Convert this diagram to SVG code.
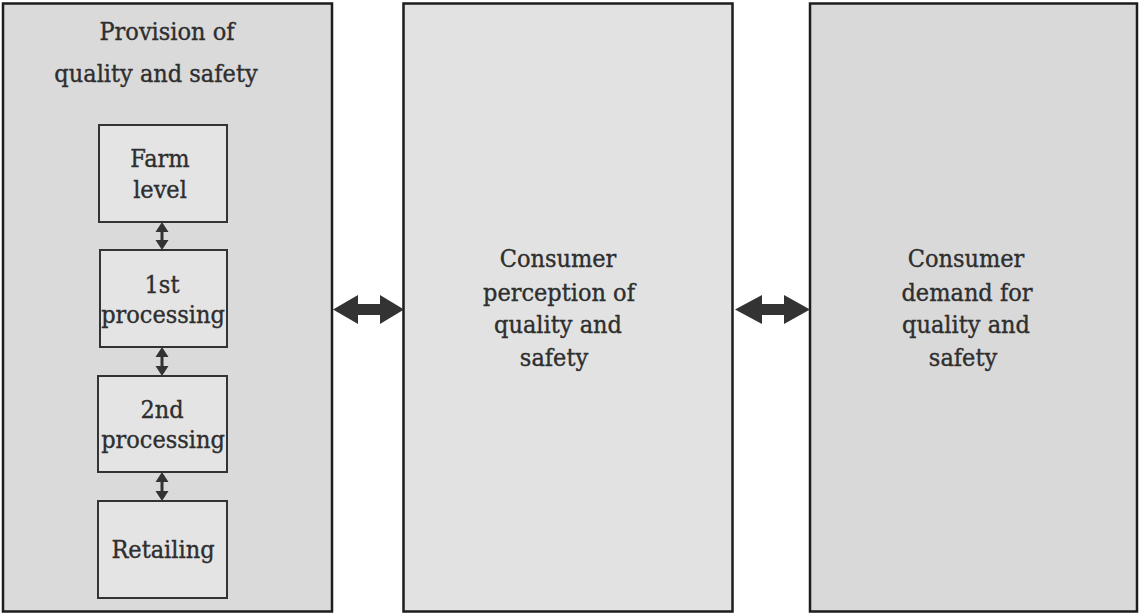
<svg xmlns="http://www.w3.org/2000/svg" width="1140" height="614" viewBox="0 0 1140 614">
<style>
.outer{stroke:#1c1c1c;stroke-width:2.5}
.inner{fill:#e4e4e4;stroke:#333;stroke-width:2}
.t{font-family:"DejaVu Serif Condensed","DejaVu Serif",serif;font-stretch:condensed;font-size:25px;fill:#2e2e2e;stroke:#2e2e2e;stroke-width:0.35;text-anchor:middle}
.arr{fill:#333}
</style>
<rect width="1140" height="614" fill="#fff"/>
<g id="provision">
<rect class="outer" x="3" y="3.5" width="329" height="608" fill="#dadada"/>
<text class="t" x="167" y="40">Provision of</text>
<text class="t" x="156" y="82">quality and safety</text>
</g>
<g id="farm">
<rect class="inner" x="99" y="125" width="128" height="97"/>
<text class="t" x="160" y="167">Farm</text>
<text class="t" x="160" y="198">level</text>
</g>
<g id="proc1">
<rect class="inner" x="100" y="250" width="127" height="97"/>
<text class="t" x="162" y="293">1st</text>
<text class="t" x="163" y="323">processing</text>
</g>
<g id="proc2">
<rect class="inner" x="98" y="376" width="129" height="96"/>
<text class="t" x="162" y="418">2nd</text>
<text class="t" x="163" y="448">processing</text>
</g>
<g id="retail">
<rect class="inner" x="98" y="501" width="129" height="97"/>
<text class="t" x="163" y="558">Retailing</text>
</g>
<g id="perception">
<rect class="outer" x="403.5" y="3.5" width="329" height="608" fill="#e2e2e2"/>
<text class="t" x="558" y="267">Consumer</text>
<text class="t" x="559" y="301">perception of</text>
<text class="t" x="558" y="333">quality and</text>
<text class="t" x="554" y="366">safety</text>
</g>
<g id="demand">
<rect class="outer" x="810" y="3.5" width="327" height="608" fill="#d9d9d9"/>
<text class="t" x="966" y="267">Consumer</text>
<text class="t" x="967" y="301">demand for</text>
<text class="t" x="966" y="333">quality and</text>
<text class="t" x="963" y="366">safety</text>
</g>
<g id="connectors">
<polygon class="arr" points="162,222 168.5,232 163.5,232 163.5,240 168.5,240 162,250 155.5,240 160.5,240 160.5,232 155.5,232"/>
<polygon class="arr" points="162,347 168.5,357 163.5,357 163.5,366 168.5,366 162,376 155.5,366 160.5,366 160.5,357 155.5,357"/>
<polygon class="arr" points="162,472 168.5,482 163.5,482 163.5,491 168.5,491 162,501 155.5,491 160.5,491 160.5,482 155.5,482"/>
<polygon class="arr" points="333,309.5 358,295 358,304 380,304 380,295 404,309.5 380,324 380,315 358,315 358,324"/>
<polygon class="arr" points="735,309.5 762,295 762,304 784,304 784,295 810,309.5 784,324 784,315 762,315 762,324"/>
</g>
</svg>
